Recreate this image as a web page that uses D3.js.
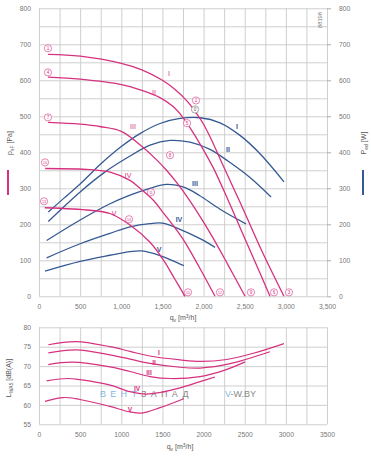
<!DOCTYPE html>
<html>
<head>
<meta charset="utf-8">
<script src="https://cdn.jsdelivr.net/npm/d3@7"></script>
<style>
body{margin:0;background:#fff;}
text{font-family:"Liberation Sans",Arial,sans-serif;}
</style>
</head>
<body>
<svg id="chart" width="371" height="457"></svg>
<script>
//donnees
var stufen = ["I","II","III","IV","V"];

// pression statique psF [Pa] en fonction de qv [m3/h]
var psI   = [[110,672],[500,667],[1000,647],[1250,629],[1500,600],[1650,575],[1800,542],[1920,506],[2000,478],[2100,433],[2240,362],[2450,258],[2700,130],[2977,0]];
var psII  = [[110,609],[500,603],[1000,588],[1250,572],[1470,552],[1630,527],[1755,495],[1875,454],[2000,406],[2120,356],[2300,266],[2500,161],[2700,57],[2807,0]];
var psIII = [[110,483],[500,478],[750,471],[1000,458],[1230,420],[1430,379],[1550,350],[1700,308],[1900,242],[2100,168],[2300,86],[2504,0]];
var psIV  = [[75,355],[620,352],[863,345],[1106,322],[1227,300],[1389,267],[1511,232],[1650,191],[1775,150],[1950,80],[2139,0]];
var psV   = [[70,246],[620,239],[863,230],[1106,198],[1349,150],[1511,101],[1650,48],[1774,0]];

// puissance absorbee Ped [W]
var pedI   = [[113,234],[300,272],[500,312],[762,370],[1000,416],[1227,452],[1471,480],[1714,494],[1957,496],[2200,482],[2443,447],[2686,396],[2977,318]];
var pedII  = [[113,208],[500,290],[800,345],[1066,384],[1349,420],[1592,433],[1835,428],[2078,408],[2300,375],[2564,330],[2820,276]];
var pedIII = [[93,155],[500,212],[863,257],[1106,281],[1349,300],[1550,311],[1775,302],[1950,280],[2200,242],[2516,201]];
var pedIV  = [[93,107],[500,146],[863,175],[1106,193],[1349,202],[1500,203],[1714,186],[1957,160],[2139,136]];
var pedV   = [[73,70],[500,97],[863,114],[1106,124],[1250,126],[1471,113],[1600,101],[1760,85]];

// niveau sonore LwA5 [dB(A)]
var lwaI   = [[113,75.5],[450,76.3],[863,75.0],[1106,73.8],[1349,72.6],[1714,71.6],[1957,71.2],[2281,71.7],[2605,73.3],[2977,75.8]];
var lwaII  = [[113,73.4],[450,74.2],[863,72.9],[1106,71.8],[1349,70.7],[1714,69.7],[1957,69.5],[2200,70.1],[2443,71.3],[2807,73.7]];
var lwaIII = [[113,70.4],[400,71.0],[863,69.8],[1106,68.6],[1349,67.3],[1600,66.8],[1957,67.3],[2250,68.9],[2504,71.1]];
var lwaIV  = [[93,66.2],[350,66.8],[498,66.5],[863,65.1],[1106,63.4],[1300,62.8],[1471,63.2],[1714,64.4],[1957,66.0],[2139,67.2]];
var lwaV   = [[73,60.9],[296,61.9],[498,61.4],[863,59.6],[1106,58.2],[1250,57.9],[1471,59.3],[1760,61.6]];

// reperes numerotes [n, qv, psF]
var reperes = [[1,109,689],[4,109,622],[7,109,497],[10,73,372],[13,61,264],
               [2,1908,544],[5,1799,481],[8,1592,392],[11,1361,289],[14,1094,214],
               [3,3038,11],[6,2856,11],[9,2576,11],[12,2200,11],[15,1811,11]];
var repereGris = [1896,519];

// positions des etiquettes des courbes
var etiqPs  = [[1580,619],[1398,567],[1142,472],[1082,336],[911,231]];
var etiqPed = [[2406,472],[2297,408],[1896,314],[1701,214],[1458,131]];
var etiqLwa = [[1458,73.4],[1397,70.8],[1337,68.2],[1191,64.1],[1106,58.7]];

var ticksQ   = d3.range(0,3501,500);
var ticksP   = d3.range(0,801,100);
var ticksLwa = d3.range(55,81,5);

var rose = "#d6317f";
var bleu = "#355a93";
var gris = "#777";

var svg = d3.select("#chart");

var x = d3.scaleLinear().domain([0,3500]).range([39,327]);
var yP = d3.scaleLinear().domain([0,800]).range([296.3,8.3]);
var yL = d3.scaleLinear().domain([55,80]).range([424.3,327.3]);

function grille(g, yScale, yStep){
	var y0 = yScale.range()[0], y1 = yScale.range()[1];
	var dom = yScale.domain();
	g.append("g").attr("transform","translate(0,"+y0+")")
		.call(d3.axisBottom(x).tickValues(d3.range(0,3501,250)).tickSize(y1-y0).tickFormat(""))
		.call(function(a){ a.select(".domain").remove(); a.selectAll("line").attr("stroke","#c9c9c9").attr("stroke-width",0.9); });
	g.append("g").attr("transform","translate("+x(0)+",0)")
		.call(d3.axisRight(yScale).tickValues(d3.range(dom[0],dom[1]+0.1,yStep)).tickSize(x(3500)-x(0)).tickFormat(""))
		.call(function(a){ a.select(".domain").remove(); a.selectAll("line").attr("stroke","#c9c9c9").attr("stroke-width",0.9); });
}

function styleLabels(a){
	a.select(".domain").remove();
	a.selectAll("text").attr("fill",gris).style("font-size","6.8px").style("font-family","Liberation Sans, Arial, sans-serif");
}

//graphique du haut
var haut = svg.append("g");
grille(haut, yP, 50);

haut.append("g").attr("transform","translate(0,"+yP(0)+")")
	.call(d3.axisBottom(x).tickValues(ticksQ).tickSize(0).tickPadding(8).tickFormat(d3.format(",")))
	.call(styleLabels);
haut.append("g").attr("transform","translate("+x(0)+",0)")
	.call(d3.axisLeft(yP).tickValues(ticksP).tickSize(0).tickPadding(8))
	.call(styleLabels);
haut.append("g").attr("transform","translate("+x(3500)+",0)")
	.call(d3.axisRight(yP).tickValues(ticksP).tickSize(4).tickPadding(8))
	.call(styleLabels)
	.call(function(a){ a.selectAll("line").attr("stroke","#aaa"); });

var lineP = d3.line().x(function(d){return x(d[0]);}).y(function(d){return yP(d[1]);}).curve(d3.curveCatmullRom.alpha(0.5));
var lineL = d3.line().x(function(d){return x(d[0]);}).y(function(d){return yL(d[1]);}).curve(d3.curveCatmullRom.alpha(0.5));

var courbesPed = [pedI,pedII,pedIII,pedIV,pedV];
var courbesPs = [psI,psII,psIII,psIV,psV];
var courbesLwa = [lwaI,lwaII,lwaIII,lwaIV,lwaV];

haut.selectAll(".ped").data(courbesPed).enter().append("path")
	.attr("class","ped").attr("d",lineP).attr("fill","none").attr("stroke",bleu).attr("stroke-width",1.3);
haut.selectAll(".ps").data(courbesPs).enter().append("path")
	.attr("class","ps").attr("d",lineP).attr("fill","none").attr("stroke",rose).attr("stroke-width",1.3);

haut.selectAll(".etps").data(etiqPs).enter().append("text")
	.attr("x",function(d){return x(d[0]);}).attr("y",function(d){return yP(d[1]);})
	.attr("dy","0.35em").attr("text-anchor","middle").attr("fill",rose)
	.style("font-size","7px")
	.text(function(d,i){return stufen[i];});
haut.selectAll(".etped").data(etiqPed).enter().append("text")
	.attr("x",function(d){return x(d[0]);}).attr("y",function(d){return yP(d[1]);})
	.attr("dy","0.35em").attr("text-anchor","middle").attr("fill",bleu)
	.style("font-size","7px").style("font-weight","bold")
	.text(function(d,i){return stufen[i];});

// reperes
var rep = haut.selectAll(".rep").data(reperes).enter().append("g")
	.attr("transform",function(d){return "translate("+x(d[1])+","+yP(d[2])+")";});
rep.append("circle").attr("r",3.6).attr("fill","#fff").attr("stroke",rose).attr("stroke-width",0.6);
rep.append("text").attr("text-anchor","middle").attr("dy","0.36em").attr("fill",rose)
	.style("font-size",function(d){return d[0]>9 ? "3.6px" : "4.6px";})
	.text(function(d){return d[0];});
var rg = haut.append("g").attr("transform","translate("+x(repereGris[0])+","+yP(repereGris[1])+")");
rg.append("circle").attr("r",3.6).attr("fill","#fff").attr("stroke","#666").attr("stroke-width",0.6);
rg.append("text").attr("text-anchor","middle").attr("dy","0.36em").attr("fill","#555").style("font-size","4.6px").text("0");

// titres d'axes
haut.append("text").attr("x",183).attr("y",320).attr("text-anchor","middle").attr("fill","#555").style("font-size","7px")
	.html('q<tspan dy="1.5" font-size="5">v</tspan><tspan dy="-1.5"> [m</tspan><tspan dy="-2" font-size="5">3</tspan><tspan dy="2">/h]</tspan>');
haut.append("text").attr("transform","translate(12,143) rotate(-90)").attr("text-anchor","middle").attr("fill","#555").style("font-size","7px")
	.html('p<tspan dy="1.5" font-size="5">sF</tspan><tspan dy="-1.5"> [Pa]</tspan>');
haut.append("line").attr("x1",8).attr("x2",8).attr("y1",170).attr("y2",195).attr("stroke",rose).attr("stroke-width",2);
haut.append("text").attr("transform","translate(366,143) rotate(-90)").attr("text-anchor","middle").attr("fill","#555").style("font-size","7px")
	.html('P<tspan dy="1.5" font-size="5">ed</tspan><tspan dy="-1.5"> [W]</tspan>');
haut.append("line").attr("x1",363).attr("x2",363).attr("y1",170).attr("y2",195).attr("stroke",bleu).attr("stroke-width",2);
haut.append("text").attr("transform","translate(322,20) rotate(-90)").attr("text-anchor","middle").attr("fill","#777").style("font-size","5.8px").text("88198");

//graphique du bas
var bas = svg.append("g");
grille(bas, yL, 5);
bas.append("g").attr("transform","translate(0,"+yL(55)+")")
	.call(d3.axisBottom(x).tickValues(ticksQ).tickSize(0).tickPadding(8).tickFormat(d3.format("d")))
	.call(styleLabels);
bas.append("g").attr("transform","translate("+x(0)+",0)")
	.call(d3.axisLeft(yL).tickValues(ticksLwa).tickSize(0).tickPadding(8))
	.call(styleLabels);

// filigrane
var fil = bas.append("text").attr("x",100).attr("y",397).style("font-size","9px").style("letter-spacing","4.3px");
fil.append("tspan").attr("fill","#7fb8e6").text("ВЕНТ");
fil.append("tspan").attr("fill","#888").text("ЗАПАД");
var fil2 = bas.append("text").attr("x",225).attr("y",397).style("font-size","9px");
fil2.append("tspan").attr("fill","#7fb8e6").text("V");
fil2.append("tspan").attr("fill","#888").text("-W.BY");

bas.selectAll(".lwa").data(courbesLwa).enter().append("path")
	.attr("class","lwa").attr("d",lineL).attr("fill","none").attr("stroke",rose).attr("stroke-width",1.2);
bas.selectAll(".etlwa").data(etiqLwa).enter().append("text")
	.attr("x",function(d){return x(d[0]);}).attr("y",function(d){return yL(d[1]);})
	.attr("dy","0.35em").attr("text-anchor","middle").attr("fill",rose)
	.style("font-size","6.5px").style("font-weight","bold")
	.text(function(d,i){return stufen[i];});

bas.append("text").attr("x",180).attr("y",449).attr("text-anchor","middle").attr("fill","#555").style("font-size","7px")
	.html('q<tspan dy="1.5" font-size="5">v</tspan><tspan dy="-1.5"> [m</tspan><tspan dy="-2" font-size="5">3</tspan><tspan dy="2">/h]</tspan>');
bas.append("text").attr("transform","translate(11,378) rotate(-90)").attr("text-anchor","middle").attr("fill","#555").style("font-size","7px")
	.html('L<tspan dy="1.5" font-size="5">WA5</tspan><tspan dy="-1.5"> [dB(A)]</tspan>');
</script>
</body>
</html>
